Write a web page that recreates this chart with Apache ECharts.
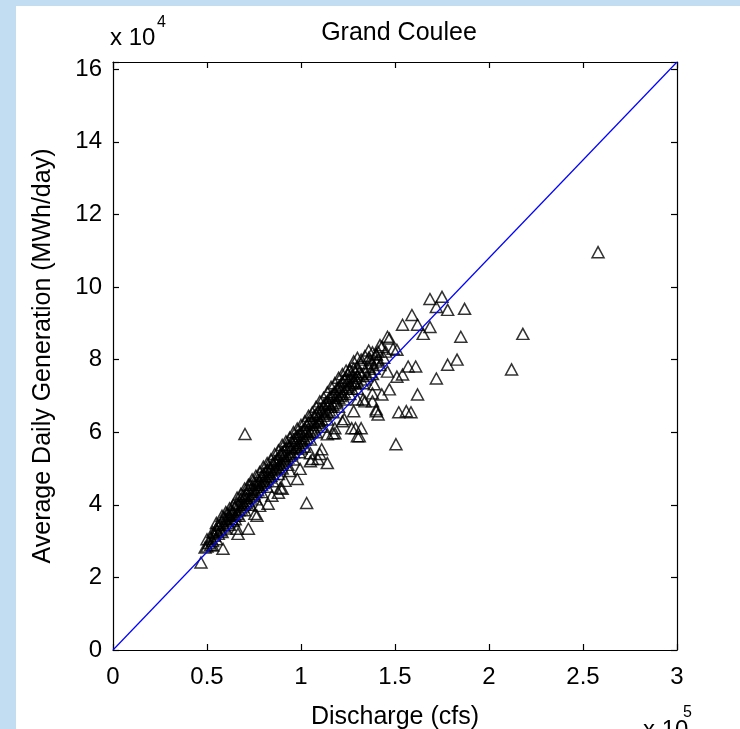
<!DOCTYPE html>
<html>
<head>
<meta charset="utf-8">
<script src="https://cdn.jsdelivr.net/npm/echarts@6/dist/echarts.min.js"></script>
<style>
html,body{margin:0;padding:0;background:#c2dcf2;overflow:hidden;}
#chart{width:740px;height:729px;}
</style>
</head>
<body>
<div id="chart"></div>
<script>
// Discharge in units of 1e5 cfs, generation in units of 1e4 MWh/day
const bandPoints = [
[0.50,2.85],[0.50,3.05],[0.51,2.95],[0.52,3.10],[0.52,2.90],[0.53,3.00],[0.53,3.25],[0.54,3.15],[0.55,3.05],[0.55,3.35],[0.56,3.20],[0.56,3.45],[0.57,3.30],[0.58,3.25],[0.58,3.55],[0.59,3.40],[0.59,3.65],[0.60,3.35],[0.60,3.60],[0.61,3.50],[0.61,3.75],[0.62,3.45],[0.62,3.70],[0.63,3.60],[0.63,3.85],[0.64,3.55],[0.64,3.80],[0.65,3.70],[0.65,3.95],[0.65,3.60],[0.66,3.75],[0.66,4.05],[0.67,3.85],[0.67,3.70],[0.68,3.90],[0.68,4.15],[0.69,3.95],[0.69,4.10],[0.70,4.00],[0.70,4.25],[0.70,3.85],[0.71,4.05],[0.71,4.30],[0.72,4.10],[0.72,4.40],[0.73,4.20],[0.73,4.55],[0.73,4.00],[0.74,4.25],[0.74,4.45],[0.75,4.30],[0.75,4.60],[0.76,4.35],[0.76,4.55],[0.76,4.15],[0.77,4.40],[0.77,4.70],[0.78,4.50],[0.78,4.65],[0.79,4.55],[0.79,4.80],[0.79,4.35],[0.80,4.60],[0.80,4.85],[0.81,4.65],[0.81,4.90],[0.82,4.70],[0.82,4.95],[0.82,4.50],[0.83,4.75],[0.83,5.05],[0.84,4.80],[0.84,5.00],[0.85,4.85],[0.85,5.15],[0.85,4.65],[0.86,4.95],[0.86,5.20],[0.87,5.00],[0.87,5.25],[0.88,5.05],[0.88,5.30],[0.88,4.85],[0.89,5.10],[0.89,5.40],[0.90,5.15],[0.90,5.45],[0.90,5.00],[0.91,5.20],[0.91,5.50],[0.92,5.25],[0.92,5.55],[0.93,5.30],[0.93,5.65],[0.93,5.10],[0.94,5.35],[0.94,5.60],[0.95,5.40],[0.95,5.75],[0.96,5.45],[0.96,5.80],[0.96,5.25],[0.97,5.55],[0.97,5.85],[0.98,5.60],[0.98,5.90],[0.99,5.65],[0.99,5.95],[0.99,5.45],[1.00,5.70],[1.00,6.00],[1.00,5.55],[1.01,5.75],[1.01,6.05],[1.02,5.80],[1.02,6.10],[1.02,5.60],[1.03,5.85],[1.03,6.20],[1.04,5.95],[1.04,6.25],[1.05,6.00],[1.05,6.35],[1.05,5.80],[1.06,6.05],[1.06,6.30],[1.07,6.10],[1.07,6.45],[1.08,6.20],[1.08,6.50],[1.08,6.00],[1.09,6.25],[1.09,6.55],[1.10,6.30],[1.10,6.65],[1.11,6.35],[1.11,6.60],[1.11,6.15],[1.12,6.45],[1.12,6.75],[1.13,6.50],[1.13,6.80],[1.14,6.55],[1.14,6.85],[1.14,6.35],[1.15,6.60],[1.15,6.95],[1.16,6.70],[1.16,7.00],[1.17,6.75],[1.17,7.05],[1.17,6.55],[1.18,6.80],[1.18,7.10],[1.19,6.85],[1.19,7.20],[1.20,6.95],[1.20,7.25],[1.20,6.70],[1.21,7.00],[1.21,7.30],[1.22,7.05],[1.22,7.40],[1.23,7.10],[1.23,7.45],[1.23,6.90],[1.24,7.20],[1.24,7.50],[1.25,7.25],[1.25,7.60],[1.26,7.30],[1.26,7.70],[1.26,7.05],[1.27,7.35],[1.27,7.55],[1.28,7.40],[1.28,7.75],[1.29,7.50],[1.29,7.65],[1.30,7.55],[1.30,7.80],[1.30,7.20],[1.32,7.60],[1.32,7.90],[1.34,7.70],[1.34,7.45],[1.36,7.80],[1.36,8.05],[1.38,7.90],[1.38,7.60],[1.40,7.95],[1.40,8.15],[1.42,7.85],[1.44,8.05]
];
const bandUpperPoints = [
[0.55,3.50],[0.58,3.70],[0.60,3.80],[0.62,3.90],[0.64,4.00],[0.66,4.20],[0.68,4.30],[0.70,4.45],[0.72,4.55],[0.74,4.70],[0.76,4.80],[0.78,4.90],[0.80,5.05],[0.82,5.15],[0.84,5.25],[0.86,5.40],[0.88,5.50],[0.90,5.65],[0.92,5.75],[0.94,5.85],[0.96,6.00],[0.98,6.10],[1.00,6.20],[1.02,6.30],[1.04,6.45],[1.06,6.55],[1.08,6.70],[1.10,6.85],[1.12,6.95],[1.14,7.10],[1.16,7.25],[1.18,7.35],[1.20,7.50],[1.22,7.60],[1.24,7.70],[1.28,7.95],[1.30,8.05],[1.34,8.10],[1.36,8.25],[1.38,8.20],[1.43,8.35],[1.35,7.55],[1.39,7.75],[1.41,8.00],[1.33,7.35],[1.37,7.65],
[0.87,5.12],[0.91,5.35],[0.95,5.58],[0.97,5.70],[1.01,5.90],[1.03,6.02],[1.07,6.28],[1.09,6.40],[1.13,6.65],[1.15,6.78],[1.19,7.02],[1.21,7.15],[1.25,7.42],[1.27,7.20],[1.29,7.35],[1.31,7.65],[0.75,4.45],[0.77,4.55],[0.71,4.18],[0.69,4.25],[0.67,4.00],[0.63,3.72],[0.61,3.62],[0.57,3.45],[0.83,4.90],[0.81,4.78]
];
const scatteredPoints = [
[0.468,2.41],[0.49,2.82],[0.53,2.88],[0.585,2.79],[0.553,3.29],[0.54,3.23],[0.66,3.34],[0.72,3.34],[0.665,3.20],[0.755,3.75],[0.825,4.03],[0.88,4.33],[0.78,3.97],[0.845,4.25],[0.766,3.70],[0.89,4.47],[0.915,4.66],[0.98,4.71],[1.05,5.20],[1.10,5.40],[1.14,5.15],[1.17,5.97],[0.90,4.44],[0.94,4.93],[0.995,4.99],[1.03,4.05],[1.06,5.26],[1.09,5.26],[1.11,5.53],[1.14,5.94],[1.18,5.97],[1.22,6.30],[1.05,5.42],[1.23,6.36],[1.29,6.11],[1.32,6.11],[1.30,5.89],[1.31,5.89],[1.27,6.11],[1.18,6.11],[1.28,6.58],[1.34,6.85],[1.30,6.90],[1.38,6.85],[1.40,6.58],[1.41,6.49],[1.40,6.63],[1.52,6.55],[1.585,6.55],[1.56,6.58],[1.43,7.04],[1.47,7.18],[1.39,7.32],[1.38,7.07],[1.33,6.90],[1.62,7.04],[1.51,7.53],[1.54,7.59],[1.46,7.67],[1.57,7.81],[1.61,7.81],[1.72,7.48],[1.78,7.86],[1.83,8.00],[1.26,7.73],[1.30,7.40],[1.32,8.00],[1.37,8.00],[1.40,8.14],[1.45,8.22],[1.41,8.22],[1.49,8.30],[1.51,8.27],[1.42,8.40],[1.46,8.63],[1.47,8.58],[1.54,8.96],[1.62,8.96],[1.686,8.90],[1.65,8.71],[1.85,8.63],[1.59,9.23],[1.686,9.67],[1.75,9.73],[1.72,9.45],[1.78,9.37],[1.87,9.40],[2.18,8.71],[2.12,7.73],[2.58,10.96],[0.702,5.95],[1.505,5.67]
];
const lineDischarge = [0, 3];
const lineGeneration = [0, 16.2];
const xTickLabels = ['0','0.5','1','1.5','2','2.5','3'];
const yTickLabels = ['0','2','4','6','8','10','12','14','16'];

const FONT = 'Liberation Sans, Arial, Helvetica, sans-serif';
const FS_TICK = 24;
const FS_NAME = 25;
const chart = echarts.init(document.getElementById('chart'), null, {renderer:'canvas'});

function xFmt(v){ const i = Math.round(v/0.5); return Math.abs(v - i*0.5) < 1e-6 && i < xTickLabels.length ? xTickLabels[i] : ''; }
function yFmt(v){ const i = Math.round(v/2); return Math.abs(v - i*2) < 1e-6 && i < yTickLabels.length ? yTickLabels[i] : ''; }

const axisCommon = {
  type:'value',
  axisLine:{show:true, onZero:false, lineStyle:{color:'#000', width:1.2}},
  axisTick:{show:true, inside:true, length:6, lineStyle:{color:'#000', width:1.2}},
  splitLine:{show:false}
};

chart.setOption({
  backgroundColor:'#c2dcf2',
  animation:false,
  graphic:[
    {type:'rect', shape:{x:16, y:6, width:724, height:723}, style:{fill:'#ffffff'}, z:-10},
    {type:'text', left:110, top:26, style:{text:'x 10', font:`${FS_TICK}px ${FONT}`, fill:'#000'}},
    {type:'text', left:157, top:15, style:{text:'4', font:`16px ${FONT}`, fill:'#000'}},
    {type:'text', left:643, top:718, style:{text:'x 10', font:`${FS_TICK}px ${FONT}`, fill:'#000'}},
    {type:'text', left:683, top:705, style:{text:'5', font:`16px ${FONT}`, fill:'#000'}}
  ],
  title:{
    text:'Grand Coulee', left:394, top:16, textAlign:'center',
    textStyle:{fontFamily:FONT, fontSize:FS_NAME, fontWeight:'normal', color:'#000'}
  },
  grid:{left:113, right:63, top:62, bottom:79, containLabel:false, outerBoundsMode:'none'},
  xAxis:[
    Object.assign({}, axisCommon, {
      position:'bottom', min:0, max:3, interval:0.5,
      name:'Discharge (cfs)', nameLocation:'middle', nameGap:55,
      nameTextStyle:{fontFamily:FONT, fontSize:FS_NAME, color:'#000'},
      axisLabel:{formatter:xFmt, margin:15, fontFamily:FONT, fontSize:FS_TICK, color:'#000'}
    }),
    Object.assign({}, axisCommon, {
      position:'top', min:0, max:3, interval:0.5, axisLabel:{show:false}
    })
  ],
  yAxis:[
    Object.assign({}, axisCommon, {
      position:'left', min:0, max:16.2, interval:2,
      name:'Average Daily Generation (MWh/day)', nameLocation:'middle', nameGap:57,
      nameTextStyle:{fontFamily:FONT, fontSize:FS_NAME, color:'#000'},
      axisLabel:{formatter:yFmt, margin:11, fontFamily:FONT, fontSize:FS_TICK, color:'#000'}
    }),
    Object.assign({}, axisCommon, {
      position:'right', min:0, max:16.2, interval:2, axisLabel:{show:false}
    })
  ],
  series:[
    {
      type:'scatter', xAxisIndex:0, yAxisIndex:0,
      data: bandPoints.concat(bandUpperPoints, scatteredPoints),
      symbol:'triangle', symbolSize:[12,11],
      itemStyle:{color:'rgba(0,0,0,0)', borderColor:'#000', borderWidth:1.5},
      emphasis:{disabled:true}, z:2
    },
    {
      type:'line', xAxisIndex:0, yAxisIndex:0,
      data: lineDischarge.map((x,i)=>[x, lineGeneration[i]]),
      showSymbol:false, symbol:'none',
      lineStyle:{color:'#0000ff', width:1.2},
      z:3
    }
  ]
});
</script>
</body>
</html>
